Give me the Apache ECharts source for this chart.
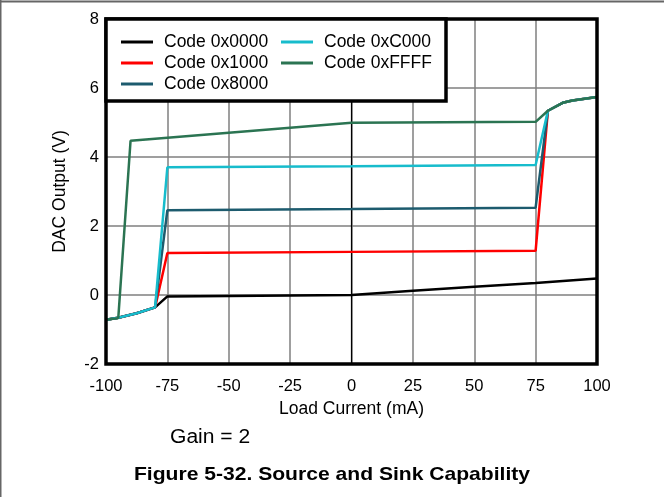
<!DOCTYPE html>
<html>
<head>
<meta charset="utf-8">
<script src="https://cdn.jsdelivr.net/npm/echarts@6/dist/echarts.min.js"></script>
<style>html,body{margin:0;padding:0;background:#fff}#c{width:664px;height:497px}</style>
</head>
<body>
<div id="c"></div>
<script>
const seriesNames = ['Code 0x0000', 'Code 0x1000', 'Code 0x8000', 'Code 0xC000', 'Code 0xFFFF'];
const xTicks = [-100, -75, -50, -25, 0, 25, 50, 75, 100];
const yTicks = [-2, 0, 2, 4, 6, 8];

const xBlack = [-100, -95, -87.5, -80, -75, 0, 25, 50, 75, 100];
const yBlack = [-0.72, -0.66, -0.53, -0.36, -0.04, 0.0, 0.12, 0.24, 0.35, 0.48];

const xMid = [-100, -95, -87.5, -80, -75, 0, 75, 80, 86, 90, 95, 100];
const yRed = [-0.72, -0.66, -0.53, -0.36, 1.22, 1.25, 1.28, 5.34, 5.57, 5.64, 5.69, 5.74];
const yTeal = [-0.72, -0.66, -0.53, -0.36, 2.46, 2.49, 2.53, 5.34, 5.57, 5.64, 5.69, 5.74];
const yCyan = [-0.72, -0.66, -0.53, -0.36, 3.70, 3.73, 3.77, 5.34, 5.57, 5.64, 5.69, 5.74];

const xGreen = [-100, -95, -90, 0, 75, 80, 86, 90, 95, 100];
const yGreen = [-0.72, -0.67, 4.47, 4.99, 5.02, 5.34, 5.57, 5.64, 5.69, 5.74];

const colors = ['#000000', '#ff0000', '#1d5b6e', '#17bccc', '#2b7452'];
const zip = (xs, ys) => xs.map((x, i) => [x, ys[i]]);
const dataSets = [zip(xBlack, yBlack), zip(xMid, yRed), zip(xMid, yTeal), zip(xMid, yCyan), zip(xGreen, yGreen)];

const FONT = 'Liberation Sans';
const chart = echarts.init(document.getElementById('c'), null, {renderer: 'canvas'});

const legendCommon = {
  orient: 'vertical', icon: 'rect', itemWidth: 32, itemHeight: 3, itemGap: 3,
  textStyle: {fontFamily: FONT, fontSize: 17.5, color: '#000', lineHeight: 17, padding: [0, 0, 0, 6]},
  selectedMode: false, z: 20
};

chart.setOption({
  animation: false,
  backgroundColor: '#fff',
  color: colors,
  grid: {left: 106, right: 67, top: 19, bottom: 133, show: false},
  legend: [
    Object.assign({left: 116, top: 28, data: seriesNames.slice(0, 3)}, legendCommon),
    Object.assign({left: 276, top: 28, data: seriesNames.slice(3)}, legendCommon)
  ],
  xAxis: {
    type: 'value', min: -100, max: 100, interval: 25,
    name: 'Load Current (mA)', nameLocation: 'middle', nameGap: 36,
    nameTextStyle: {fontFamily: FONT, fontSize: 17.5, color: '#000'},
    axisLine: {show: false}, axisTick: {show: false},
    axisLabel: {fontFamily: FONT, fontSize: 16.5, color: '#000', margin: 14,
      formatter: v => xTicks.includes(v) ? String(v) : ''},
    splitLine: {show: true, showMinLine: false, showMaxLine: false, lineStyle: {color: '#7f7f7f', width: 1.5}}
  },
  yAxis: {
    type: 'value', min: -2, max: 8, interval: 2,
    name: 'DAC Output (V)', nameLocation: 'middle', nameGap: 37,
    nameTextStyle: {fontFamily: FONT, fontSize: 17.5, color: '#000'},
    axisLine: {show: false}, axisTick: {show: false},
    axisLabel: {fontFamily: FONT, fontSize: 16.5, color: '#000', margin: 7,
      formatter: v => yTicks.includes(v) ? String(v) : ''},
    splitLine: {show: true, showMinLine: false, showMaxLine: false, lineStyle: {color: '#7f7f7f', width: 1.5}}
  },
  series: seriesNames.map((n, i) => {
    const s = {
      name: n, type: 'line', data: dataSets[i], showSymbol: false, symbol: 'none',
      lineStyle: {width: 2.5, color: colors[i]}, itemStyle: {color: colors[i]}, z: 3 + i
    };
    if (i === 0) {
      s.markLine = {silent: true, symbol: 'none', label: {show: false},
        lineStyle: {color: '#000', width: 1.2, type: 'solid'}, z: 1, data: [{xAxis: 0}]};
    }
    return s;
  }),
  graphic: [
    {type: 'rect', z: 10, shape: {x: 106, y: 19, width: 491, height: 345},
      style: {fill: null, stroke: '#000', lineWidth: 3.5}},
    {type: 'rect', z: 15, shape: {x: 106, y: 19, width: 340, height: 82},
      style: {fill: '#fff', stroke: '#000', lineWidth: 3.5}},
    {type: 'line', z: 10, shape: {x1: 0, y1: 1.5, x2: 664, y2: 1.5}, style: {stroke: '#666', lineWidth: 2}},
    {type: 'line', z: 10, shape: {x1: 0.5, y1: 0, x2: 0.5, y2: 497}, style: {stroke: '#666', lineWidth: 2}},
    {type: 'text', z: 10, x: 170, y: 438, scaleX: 1.08,
      style: {text: 'Gain = 2', fontFamily: FONT, fontSize: 19.5, fill: '#000', align: 'left', verticalAlign: 'middle'}},
    {type: 'text', z: 10, x: 332, y: 475, scaleX: 1.11,
      style: {text: 'Figure 5-32. Source and Sink Capability', fontFamily: FONT, fontSize: 19, fontWeight: 'bold', fill: '#000', align: 'center', verticalAlign: 'middle'}}
  ]
});
</script>
</body>
</html>
